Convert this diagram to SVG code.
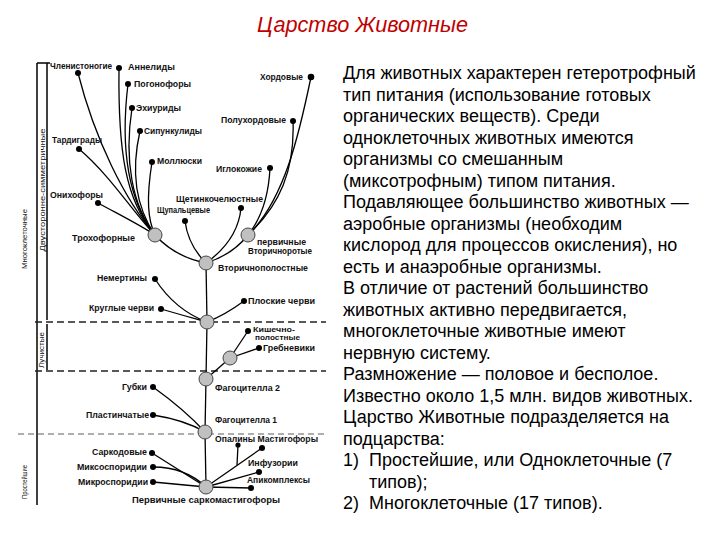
<svg xmlns="http://www.w3.org/2000/svg" width="720" height="540" viewBox="0 0 720 540">
<style>
.t{font-family:"Liberation Sans",Arial,sans-serif;font-size:8.5px;font-weight:bold;fill:#111}
.ts{font-size:7.5px}
.ax{font-family:"Liberation Sans",Arial,sans-serif;font-size:8px;fill:#111;text-anchor:middle}
.body{font-family:"Liberation Sans",Arial,sans-serif;font-size:18px;fill:#000}
.title{font-family:"Liberation Sans",Arial,sans-serif;font-size:22px;font-style:italic;fill:#c00000}
.c{fill:none;stroke:#000;stroke-width:1.3}
.d{fill:none;stroke:#222;stroke-width:1.6;stroke-dasharray:7,4}
.d2{fill:none;stroke:#333;stroke-width:0.8;stroke-dasharray:6,4}
.ax-l{stroke:#000;stroke-width:1.5}
.n{fill:#c0c0c0;stroke:#444;stroke-width:1}
.dot{fill:#000}
</style>
<rect width="720" height="540" fill="#fff"/>
<text class="title" x="257" y="32" textLength="211" lengthAdjust="spacingAndGlyphs">Царство Животные</text>

<g id="axis">
<line class="ax-l" x1="37" y1="63" x2="37" y2="505"/>
<line class="ax-l" x1="47" y1="63" x2="47" y2="320"/>
<line class="ax-l" x1="47" y1="324" x2="47" y2="370"/>
<line class="ax-l" x1="37" y1="63" x2="50" y2="63"/>
<text class="ax" transform="translate(27,239) rotate(-90)" textLength="60" lengthAdjust="spacingAndGlyphs">Многоклеточные</text>
<text class="ax" transform="translate(45,190) rotate(-90)" textLength="123" lengthAdjust="spacingAndGlyphs">Двусторонне-симметричные</text>
<text class="ax" transform="translate(44,350) rotate(-90)" textLength="36" lengthAdjust="spacingAndGlyphs">Лучистые</text>
<text class="ax" transform="translate(27,482) rotate(-90)" textLength="34" lengthAdjust="spacingAndGlyphs">Простейшие</text>
</g>

<g id="dashes">
<line class="d" x1="35" y1="322" x2="326" y2="322"/>
<line class="d" x1="35" y1="371" x2="326" y2="371"/>
<line class="d2" x1="18" y1="434" x2="326" y2="434"/>
</g>

<g id="connectors">
<path class="c" d="M78,73 C95,140 125,200 155,235"/>
<path class="c" d="M119,68 C118,150 125,200 155,235"/>
<path class="c" d="M128,84 C120,150 128,200 155,235"/>
<path class="c" d="M132,108 C124,160 132,205 155,235"/>
<path class="c" d="M140,131 C130,175 138,210 155,235"/>
<path class="c" d="M152,162 C146,200 148,220 155,235"/>
<path class="c" d="M79,149 C110,175 135,215 155,235"/>
<path class="c" d="M98,203 C120,215 140,225 155,235"/>
<path class="c" d="M155,235 Q175,257 206,263"/>
<path class="c" d="M206,263 Q188,245 185,221"/>
<path class="c" d="M206,263 Q238,240 241,208"/>
<path class="c" d="M206,263 Q232,255 248,235"/>
<path class="c" d="M248,235 Q268,210 270,168"/>
<path class="c" d="M311,77 C300,130 285,200 248,235"/>
<path class="c" d="M293,120 C295,170 280,205 248,235"/>
<path class="c" d="M206,263 L207,322"/>
<path class="c" d="M155,279 Q175,310 207,322"/>
<path class="c" d="M161,309 Q185,316 207,322"/>
<path class="c" d="M244,301 Q225,315 207,322"/>
<path class="c" d="M207,322 L206,379"/>
<path class="c" d="M206,379 L230,358"/>
<path class="c" d="M230,358 L248,331"/>
<path class="c" d="M230,358 L259,348"/>
<path class="c" d="M206,379 L205,432"/>
<path class="c" d="M153,387 Q185,410 205,432"/>
<path class="c" d="M153,415 Q185,420 205,432"/>
<path class="c" d="M205,432 L206,487"/>
<path class="c" d="M152,453 L206,487"/>
<path class="c" d="M153,467 Q185,467 206,487"/>
<path class="c" d="M153,482 L206,487"/>
<path class="c" d="M206,487 L262,448"/>
<path class="c" d="M238,445 L237,465"/>
<path class="c" d="M259,472 L206,487"/>
<path class="c" d="M251,488 L206,487"/>
</g>

<g id="n-chlenistonogie"><circle class="dot" cx="78" cy="73" r="3"/><text class="t" x="50" y="69" textLength="62" lengthAdjust="spacingAndGlyphs">Членистоногие</text></g>
<g id="n-annelidy"><circle class="dot" cx="119" cy="68" r="3"/><text class="t" x="128" y="70" textLength="47" lengthAdjust="spacingAndGlyphs">Аннелиды</text></g>
<g id="n-pogonofory"><circle class="dot" cx="128" cy="84" r="3"/><text class="t" x="134" y="87" textLength="57" lengthAdjust="spacingAndGlyphs">Погонофоры</text></g>
<g id="n-ehiuridy"><circle class="dot" cx="132" cy="108" r="3"/><text class="t" x="136" y="111" textLength="45" lengthAdjust="spacingAndGlyphs">Эхиуриды</text></g>
<g id="n-sipunkulidy"><circle class="dot" cx="140" cy="131" r="3"/><text class="t" x="144" y="134" textLength="58" lengthAdjust="spacingAndGlyphs">Сипункулиды</text></g>
<g id="n-tardigrady"><circle class="dot" cx="79" cy="149" r="3"/><text class="t" x="52" y="143" textLength="50" lengthAdjust="spacingAndGlyphs">Тардиграды</text></g>
<g id="n-mollyuski"><circle class="dot" cx="152" cy="162" r="3"/><text class="t" x="157" y="164" textLength="45" lengthAdjust="spacingAndGlyphs">Моллюски</text></g>
<g id="n-hordovye"><circle class="dot" cx="311" cy="77" r="3.3"/><text class="t" x="260" y="80" textLength="43" lengthAdjust="spacingAndGlyphs">Хордовые</text></g>
<g id="n-poluhordovye"><circle class="dot" cx="293" cy="121" r="3"/><text class="t" x="221" y="123" textLength="65" lengthAdjust="spacingAndGlyphs">Полухордовые</text></g>
<g id="n-iglokozhie"><circle class="dot" cx="270" cy="168" r="3"/><text class="t" x="216" y="172" textLength="46" lengthAdjust="spacingAndGlyphs">Иглокожие</text></g>
<g id="n-onihofory"><circle class="dot" cx="98" cy="203" r="3"/><text class="t" x="50" y="198" textLength="53" lengthAdjust="spacingAndGlyphs">Онихофоры</text></g>
<g id="n-shchetinko"><circle class="dot" cx="241" cy="208" r="3"/><text class="t" x="176" y="202" textLength="87" lengthAdjust="spacingAndGlyphs">Щетинкочелюстные</text></g>
<g id="n-shchupaltsevye"><circle class="dot" cx="185" cy="221" r="3"/><text class="t" x="157" y="213" textLength="53" lengthAdjust="spacingAndGlyphs">Щупальцевые</text></g>
<g id="n-trohofornye"><circle class="n" cx="155" cy="235" r="7"/><text class="t" x="72" y="241" textLength="63" lengthAdjust="spacingAndGlyphs">Трохофорные</text></g>
<g id="n-vtorichnorotye"><circle class="n" cx="248" cy="235" r="7"/><text class="t" x="257" y="245" textLength="49" lengthAdjust="spacingAndGlyphs">первичные</text><text class="t" x="248" y="254" textLength="64" lengthAdjust="spacingAndGlyphs">Вторичноротые</text></g>
<g id="n-vtorichnopolostnye"><circle class="n" cx="206" cy="263" r="7"/><text class="t" x="218" y="271" textLength="90" lengthAdjust="spacingAndGlyphs">Вторичнополостные</text></g>
<g id="n-nemertiny"><circle class="dot" cx="155" cy="279" r="3"/><text class="t" x="97" y="281" textLength="50" lengthAdjust="spacingAndGlyphs">Немертины</text></g>
<g id="n-ploskie"><circle class="dot" cx="244" cy="301" r="3"/><text class="t" x="248" y="304" textLength="67" lengthAdjust="spacingAndGlyphs">Плоские черви</text></g>
<g id="n-kruglye"><circle class="dot" cx="161" cy="309" r="3"/><text class="t" x="89" y="311" textLength="65" lengthAdjust="spacingAndGlyphs">Круглые черви</text></g>
<g id="n-node3"><circle class="n" cx="207" cy="322" r="7"/></g>
<g id="n-kishechno"><circle class="dot" cx="248" cy="331" r="3"/><text class="t ts" x="253" y="331.5" textLength="42" lengthAdjust="spacingAndGlyphs">Кишечно-</text><text class="t ts" x="255" y="340" textLength="45" lengthAdjust="spacingAndGlyphs">полостные</text></g>
<g id="n-grebneviki"><circle class="dot" cx="259" cy="348" r="3"/><text class="t" x="263" y="351" textLength="52" lengthAdjust="spacingAndGlyphs">Гребневики</text></g>
<g id="n-luchistye"><circle class="n" cx="230" cy="358" r="7"/></g>
<g id="n-fagocitella2"><circle class="n" cx="206" cy="379" r="7"/><text class="t" x="215" y="391" textLength="65" lengthAdjust="spacingAndGlyphs">Фагоцителла 2</text></g>
<g id="n-gubki"><circle class="dot" cx="153" cy="387" r="3"/><text class="t" x="122" y="390" textLength="25" lengthAdjust="spacingAndGlyphs">Губки</text></g>
<g id="n-plastinchatye"><circle class="dot" cx="153" cy="415" r="3"/><text class="t" x="86" y="418" textLength="63" lengthAdjust="spacingAndGlyphs">Пластинчатые</text></g>
<g id="n-fagocitella1"><circle class="n" cx="205" cy="432" r="7"/><text class="t" x="215" y="423" textLength="62" lengthAdjust="spacingAndGlyphs">Фагоцителла 1</text></g>
<g id="n-opaliny"><circle class="dot" cx="238" cy="445" r="2.6"/><circle class="dot" cx="262" cy="448" r="3"/><text class="t" x="215" y="442" textLength="103" lengthAdjust="spacingAndGlyphs">Опалины Мастигофоры</text></g>
<g id="n-sarkodovye"><circle class="dot" cx="152" cy="453" r="3"/><text class="t" x="92" y="455" textLength="55" lengthAdjust="spacingAndGlyphs">Саркодовые</text></g>
<g id="n-miksosporidii"><circle class="dot" cx="153" cy="467" r="3"/><text class="t" x="77" y="470" textLength="70" lengthAdjust="spacingAndGlyphs">Миксоспоридии</text></g>
<g id="n-mikrosporidii"><circle class="dot" cx="153" cy="482" r="3"/><text class="t" x="78" y="485" textLength="70" lengthAdjust="spacingAndGlyphs">Микроспоридии</text></g>
<g id="n-infuzorii"><circle class="dot" cx="259" cy="472" r="3"/><text class="t" x="248" y="466" textLength="50" lengthAdjust="spacingAndGlyphs">Инфузории</text></g>
<g id="n-apikompleksy"><circle class="dot" cx="251" cy="488" r="3"/><text class="t" x="247" y="483" textLength="63" lengthAdjust="spacingAndGlyphs">Апикомплексы</text></g>
<g id="n-sarkomastigofory"><circle class="n" cx="206" cy="487" r="7"/><text class="t" x="132" y="503" textLength="148" lengthAdjust="spacingAndGlyphs">Первичные  саркомастигофоры</text></g>

<g id="description" class="body">
<text x="343" y="79">Для животных характерен гетеротрофный</text>
<text x="343" y="100.5">тип питания (использование готовых</text>
<text x="343" y="122">органических веществ). Среди</text>
<text x="343" y="143.5">одноклеточных животных имеются</text>
<text x="343" y="165">организмы со смешанным</text>
<text x="343" y="186.5">(миксотрофным) типом питания.</text>
<text x="343" y="208">Подавляющее большинство животных —</text>
<text x="343" y="229.5">аэробные организмы (необходим</text>
<text x="343" y="251">кислород для процессов окисления), но</text>
<text x="343" y="272.5">есть и анаэробные организмы.</text>
<text x="343" y="294">В отличие от растений большинство</text>
<text x="343" y="315.5">животных активно передвигается,</text>
<text x="343" y="337">многоклеточные животные имеют</text>
<text x="343" y="358.5">нервную систему.</text>
<text x="343" y="380">Размножение — половое и бесполое.</text>
<text x="343" y="401.5">Известно около 1,5 млн. видов животных.</text>
<text x="343" y="423">Царство Животные подразделяется на</text>
<text x="343" y="444.5">подцарства:</text>
<text x="343" y="466">1)<tspan x="369">Простейшие, или Одноклеточные (7</tspan></text>
<text x="369" y="487.5">типов);</text>
<text x="343" y="509">2)<tspan x="369">Многоклеточные (17 типов).</tspan></text>
</g>
</svg>
